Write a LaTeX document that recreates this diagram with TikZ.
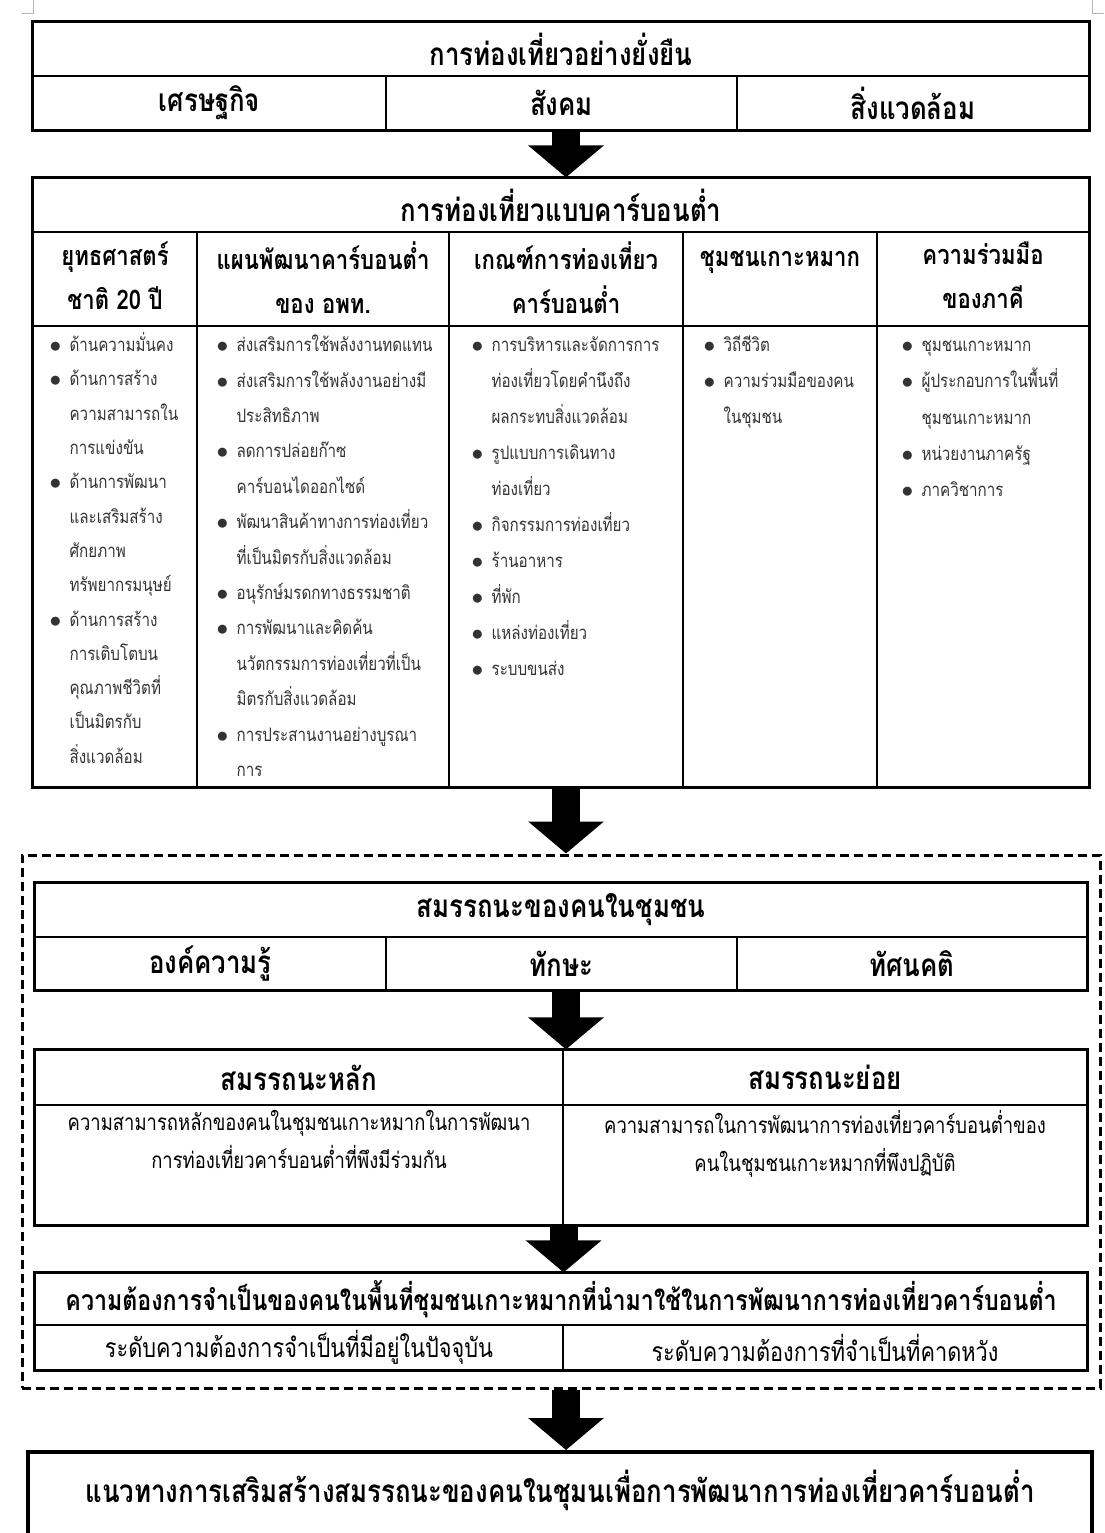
\documentclass[tikz,border=0pt]{standalone}
\usepackage{fontspec}
\setmainfont{Loma}[Script=Thai, FakeStretch=0.82]
\usetikzlibrary{arrows.meta, positioning}
\definecolor{ctext}{HTML}{333333}
\definecolor{cmark}{HTML}{B4B4B4}
\newcommand{\itm}{\rule{0pt}{20pt}\makebox[20pt][l]{\raisebox{-1pt}{\scalebox{1.35}{$\bullet$}}}}
\newcommand{\cnt}{\hspace*{20pt}}
\tikzset{
  every picture/.style={line width=1.2pt},
  cell/.style={draw, inner sep=0pt, minimum height=#1},
  frame/.style={draw, line width=2.6pt},
  head/.style={font=\bfseries\fontsize{31.5}{36}\selectfont},
  colhead/.style={font=\bfseries\fontsize{27}{44}\selectfont, align=center, inner sep=0pt,
    execute at begin node=\rule{0pt}{24pt}},
  bullets/.style={font=\fontsize{18.5}{#1}\selectfont, text=ctext, align=left, inner sep=0pt, anchor=north west},
  defn/.style={font=\fontsize{22.5}{38}\selectfont, align=center, inner sep=0pt,
    execute at begin node=\rule{0pt}{22pt}},
  plain/.style={font=\fontsize{26.5}{30}\selectfont, inner sep=0pt},
  dashbox/.style={draw, line width=3pt, dash pattern=on 9pt off 5pt},
  bigarrow/.style={line width=28pt, -{Triangle[width=74pt, length=32pt]}},
}

\begin{document}
\begin{tikzpicture}[x=1pt, y=-1pt]
  \useasboundingbox (0,0) rectangle (1104,1533);
  % page marks
  \draw[cmark, line width=1pt] (22,14) -- (33,14) -- (33,0);
  \draw[cmark, line width=1pt] (1092,0) -- (1092,14) -- (1104,14);

  % sustainable tourism
  \node[cell=54pt, minimum width=1056pt, head] (sus) at (561,49) {การท่องเที่ยวอย่างยั่งยืน};
  \foreach \x/\w/\t [count=\i] in {209.5/353/เศรษฐกิจ, 561.5/351/สังคม, 913/352/สิ่งแวดล้อม}
    \node[cell=54pt, minimum width=\w pt, head] (sus\i) at (\x,103) {\t};
  \draw[frame] (sus.north west) rectangle (sus3.south east);

  % low carbon tourism
  \node[cell=54pt, minimum width=1056pt, head] (low) at (561,205) {การท่องเที่ยวแบบคาร์บอนต่ำ};
  \foreach \x/\w/\t [count=\i] in {115/164/{ยุทธศาสตร์\\ชาติ 20 ปี}, 323/252/{แผนพัฒนาคาร์บอนต่ำ\\ของ อพท.},
      566/234/{เกณฑ์การท่องเที่ยว\\คาร์บอนต่ำ}, 780/194/{ชุมชนเกาะหมาก}, 983/212/{ความร่วมมือ\\ของภาคี}} {
    \node[cell=94pt, minimum width=\w pt] (hd\i) at (\x,279) {};
    \node[colhead, anchor=north] at ([yshift=-10pt]hd\i.north) {\t};
    \node[cell=461pt, minimum width=\w pt] (col\i) at (\x,556.5) {};
  }
  \node[bullets=34.3] (list1) at (49,331) {\itm ด้านความมั่นคง\\\itm ด้านการสร้าง\\\cnt ความสามารถใน\\\cnt การแข่งขัน\\
    \itm ด้านการพัฒนา\\\cnt และเสริมสร้าง\\\cnt ศักยภาพ\\\cnt ทรัพยากรมนุษย์\\\itm ด้านการสร้าง\\
    \cnt การเติบโตบน\\\cnt คุณภาพชีวิตที่\\\cnt เป็นมิตรกับ\\\cnt สิ่งแวดล้อม};
  \node[bullets=35.4] (list2) at (216,331) {\itm ส่งเสริมการใช้พลังงานทดแทน\\\itm ส่งเสริมการใช้พลังงานอย่างมี\\
    \cnt ประสิทธิภาพ\\\itm ลดการปล่อยก๊าซ\\\cnt คาร์บอนไดออกไซด์\\\itm พัฒนาสินค้าทางการท่องเที่ยว\\
    \cnt ที่เป็นมิตรกับสิ่งแวดล้อม\\\itm อนุรักษ์มรดกทางธรรมชาติ\\\itm การพัฒนาและคิดค้น\\
    \cnt นวัตกรรมการท่องเที่ยวที่เป็น\\\cnt มิตรกับสิ่งแวดล้อม\\\itm การประสานงานอย่างบูรณา\\\cnt การ};
  \node[bullets=36] (list3) at (471,331) {\itm การบริหารและจัดการการ\\\cnt ท่องเที่ยวโดยคำนึงถึง\\
    \cnt ผลกระทบสิ่งแวดล้อม\\\itm รูปแบบการเดินทาง\\\cnt ท่องเที่ยว\\\itm กิจกรรมการท่องเที่ยว\\
    \itm ร้านอาหาร\\\itm ที่พัก\\\itm แหล่งท่องเที่ยว\\\itm ระบบขนส่ง};
  \node[bullets=36] (list4) at (703,331) {\itm วิถีชีวิต\\\itm ความร่วมมือของคน\\\cnt ในชุมชน};
  \node[bullets=36.3] (list5) at (901,331) {\itm ชุมชนเกาะหมาก\\\itm ผู้ประกอบการในพื้นที่\\\cnt ชุมชนเกาะหมาก\\
    \itm หน่วยงานภาครัฐ\\\itm ภาควิชาการ};
  \draw[frame] (low.north west) rectangle (col5.south east);

  % competency group
  \node[dashbox, minimum width=1078pt, minimum height=533pt] (grp) at (561,1121.5) {};
  \node[cell=54pt, minimum width=1052pt, head] (comp) at (561,910) {สมรรถนะของคนในชุมชน};
  \foreach \x/\w/\t [count=\i] in {210.5/351/องค์ความรู้, 561.5/351/ทักษะ, 912/350/ทัศนคติ}
    \node[cell=53pt, minimum width=\w pt, head] (comp\i) at (\x,963.5) {\t};
  \draw[frame] (comp.north west) rectangle (comp3.south east);

  \foreach \x/\w/\t/\d [count=\i] in {299/528/สมรรถนะหลัก/{ความสามารถหลักของคนในชุมชนเกาะหมากในการพัฒนา\\การท่องเที่ยวคาร์บอนต่ำที่พึงมีร่วมกัน},
      825/524/สมรรถนะย่อย/{ความสามารถในการพัฒนาการท่องเที่ยวคาร์บอนต่ำของ\\คนในชุมชนเกาะหมากที่พึงปฏิบัติ}} {
    \node[cell=55pt, minimum width=\w pt, head] (lvl\i) at (\x,1077.5) {\t};
    \node[cell=120pt, minimum width=\w pt] (def\i) at (\x,1165) {};
    \node[defn, anchor=north] at ([yshift=-5.5pt]def\i.north) {\d};
  }
  \draw[frame] (lvl1.north west) rectangle (def2.south east);

  \node[cell=52pt, minimum width=1052pt, head, font=\bfseries\fontsize{28.3}{32}\selectfont] (need) at (561,1299)
    {ความต้องการจำเป็นของคนในพื้นที่ชุมชนเกาะหมากที่นำมาใช้ในการพัฒนาการท่องเที่ยวคาร์บอนต่ำ};
  \foreach \x/\w/\t [count=\i] in {299/528/ระดับความต้องการจำเป็นที่มีอยู่ในปัจจุบัน, 825/524/ระดับความต้องการที่จำเป็นที่คาดหวัง}
    \node[cell=45pt, minimum width=\w pt, plain] (lev\i) at (\x,1347.5) {\t};
  \draw[frame] (need.north west) rectangle (lev2.south east);

  % guideline
  \node[draw, line width=4pt, minimum width=1064pt, minimum height=100pt, anchor=north] (way) at (560,1450) {};
  \node[head] (wayt) at ([yshift=12pt]way.center) {แนวทางการเสริมสร้างสมรรถนะของคนในชุมนเพื่อการพัฒนาการท่องเที่ยวคาร์บอนต่ำ};

  % arrows
  \coordinate (a1) at ([xshift=4.5pt]sus2.south);
  \coordinate (a3) at ([xshift=4.5pt]comp2.south);
  \coordinate (a4) at (def1.south east);
  \coordinate (a5) at ([xshift=5pt]grp.south);
  \draw[bigarrow] (a1) -- (a1 |- low.north);
  \draw[bigarrow] (col3.south) -- (col3.south |- grp.north);
  \draw[bigarrow] (a3) -- (a3 |- lvl1.north);
  \draw[bigarrow] (a4) -- (a4 |- need.north);
  \draw[bigarrow] (a5) -- (a5 |- way.north);
\end{tikzpicture}
\end{document}
